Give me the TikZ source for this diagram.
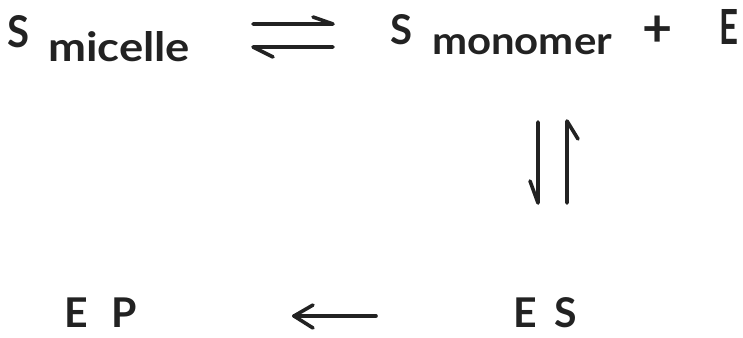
\documentclass[tikz,border=0pt]{standalone}
\usepackage{fontspec}
\setmainfont{Lato}
\usepackage{graphicx}
\definecolor{ink}{HTML}{222222}
\tikzset{
  txt/.style={inner sep=0pt, outer sep=0pt, anchor=base west, text=ink, font=\bfseries},
  low/.style={txt, font=\bfseries\fontsize{41}{41}\selectfont}
}
\tikzset{
  arr/.style={draw=ink, line width=3.6pt, line cap=round, line join=round}
}
\begin{document}
\begin{tikzpicture}[x=1pt,y=-1pt]
\useasboundingbox (0,0) rectangle (743,337);
% top row
\node[txt] (S1) at (8,47) {\resizebox{22pt}{32pt}{S}};
\node[txt] (mic) at (48,62) {\resizebox{142pt}{30pt}{micelle}};
\node[txt] (S2) at (390,45) {\resizebox{22pt}{30pt}{S}};
\node[txt] (mon) at (432,55) {\resizebox{180pt}{20pt}{monomer}};
\node[inner sep=0pt, text=ink, font=\bfseries\fontsize{52}{52}\selectfont, anchor=base] (plus) at (658,46) {+};
\node[txt] (E1) at (719,45) {\resizebox{19pt}{35pt}{E}};
% bottom row
\node[low] (E2) at (64,327) {E};
\node[low] (P) at (111,327) {P};
\node[low] (E3) at (513,327) {E};
\node[low] (S3) at (554,327) {S};
% equilibrium harpoons (top)
\coordinate (h1a) at (253,24); \coordinate (h1b) at (333,24); \coordinate (h1c) at (313,17);
\coordinate (h2a) at (333,47); \coordinate (h2b) at (253,47); \coordinate (h2c) at (273,57);
\draw[arr] (h1a) -- (h1b) -- (h1c);
\draw[arr] (h2a) -- (h2b) -- (h2c);
% vertical harpoons
\coordinate (v1a) at (538,122); \coordinate (v1b) at (538,203); \coordinate (v1c) at (530,181);
\coordinate (v2a) at (567,203); \coordinate (v2b) at (567,121); \coordinate (v2c) at (578,139);
\draw[arr] (v1a) -- (v1b) -- (v1c);
\draw[arr] (v2a) -- (v2b) -- (v2c);
% bottom arrow
\coordinate (b1) at (376,316); \coordinate (b2) at (294,316);
\coordinate (b3) at (313,305); \coordinate (b4) at (313,328);
\draw[arr] (b1) -- (b2);
\draw[arr] (b3) -- (b2) -- (b4);
\end{tikzpicture}
\end{document}
